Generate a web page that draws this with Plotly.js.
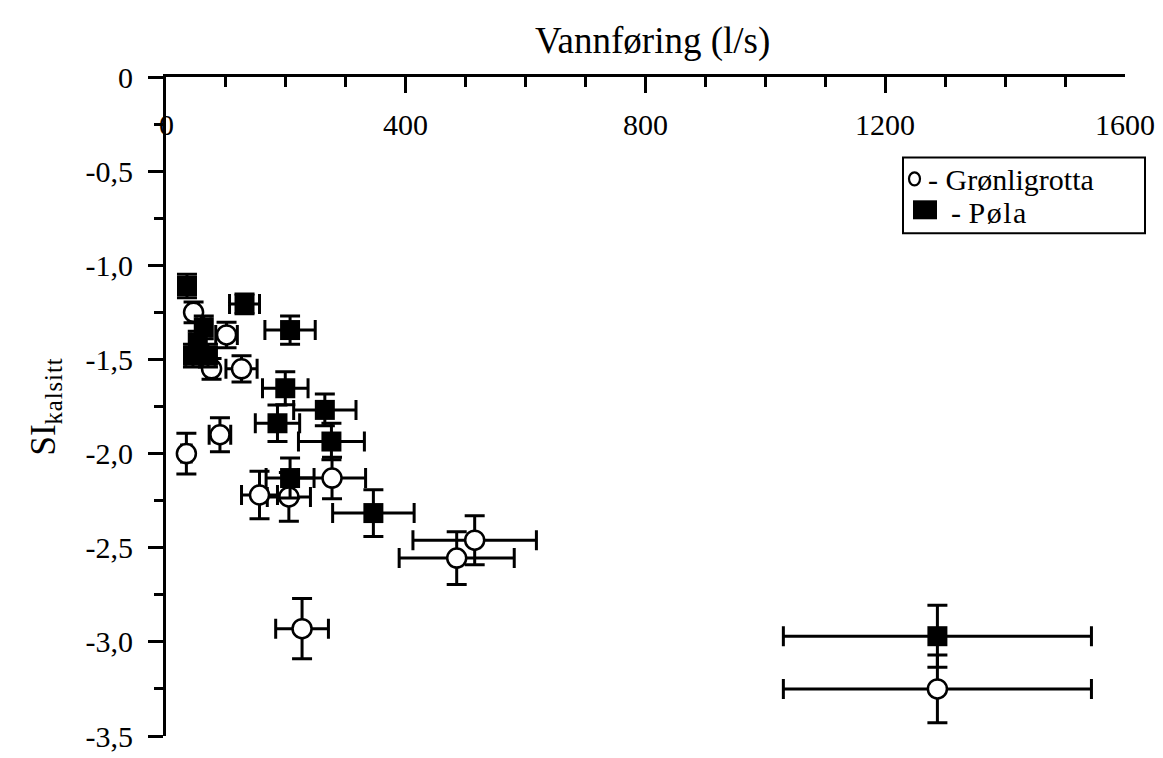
<!DOCTYPE html>
<html>
<head>
<meta charset="utf-8">
<script src="https://cdn.plot.ly/plotly-3.0.1.min.js"></script>
<style>html,body{margin:0;padding:0;background:#fff;}#chart{width:1163px;height:758px;}</style>
</head>
<body>
<div id="chart"></div>
<script>
// Grønligrotta (open circles)
const gronX    = [46, 101, 76, 126, 90, 34, 156, 205, 277, 515, 485, 227, 1287];
const gronY    = [-1.25, -1.37, -1.55, -1.55, -1.90, -2.00, -2.22, -2.23, -2.13, -2.46, -2.555, -2.93, -3.25];
const gronXerr = [8, 18, 8, 26, 18, 8, 30, 36, 56, 103, 96, 44, 257];
const gronYerr = [0.055, 0.068, 0.055, 0.07, 0.09, 0.108, 0.126, 0.13, 0.11, 0.13, 0.14, 0.16, 0.18];

// Pøla (filled squares)
const polaX    = [35, 131, 207, 63, 53, 45, 70, 199, 265, 186, 276, 207, 346, 1287];
const polaY    = [-1.11, -1.205, -1.344, -1.33, -1.41, -1.48, -1.48, -1.653, -1.768, -1.839, -1.936, -2.13, -2.316, -2.97];
const polaXerr = [10, 25, 42, 12, 12, 12, 12, 38, 52, 37, 55, 40, 68, 257];
const polaYerr = [0.062, 0.053, 0.075, 0.06, 0.06, 0.06, 0.06, 0.088, 0.084, 0.097, 0.097, 0.106, 0.124, 0.165];

const xTickVals = [0, 400, 800, 1200, 1600];
const xTickText = ['0', '400', '800', '1200', '1600'];
const yTickVals = [0, -0.5, -1.0, -1.5, -2.0, -2.5, -3.0, -3.5];
const yTickText = ['0', '-0,5', '-1,0', '-1,5', '-2,0', '-2,5', '-3,0', '-3,5'];

const seriesNames = ['Grønligrotta', 'Pøla'];

const FONT = 'Liberation Serif, Times New Roman, serif';
const errStyle = {type: 'data', color: '#000', thickness: 3, width: 10, visible: true};

const traces = [
  {
    x: gronX, y: gronY, mode: 'markers', type: 'scatter', name: seriesNames[0],
    marker: {symbol: 'circle', size: 19, color: '#fff', line: {color: '#000', width: 2.5}},
    error_x: Object.assign({array: gronXerr}, errStyle),
    error_y: Object.assign({array: gronYerr}, errStyle)
  },
  {
    x: polaX, y: polaY, mode: 'markers', type: 'scatter', name: seriesNames[1],
    marker: {symbol: 'square', size: 20, color: '#000', line: {color: '#000', width: 0}},
    error_x: Object.assign({array: polaXerr}, errStyle),
    error_y: Object.assign({array: polaYerr}, errStyle)
  }
];

// pixel helpers for the legend box (plot area: x 166..1125, y 76.5..736.5)
const PL = 166, PR = 1125, PT = 76.5, PB = 736.5;
const px = v => (v - PL) / (PR - PL);
const py = v => (PB - v) / (PB - PT);

const annotations = [
  {text: 'Vannføring (l/s)', xref: 'paper', yref: 'paper', x: px(652), y: py(40),
   xanchor: 'center', yanchor: 'middle', showarrow: false,
   font: {family: FONT, size: 37, color: '#000'}}
];
// x tick labels, drawn below the top axis line
xTickVals.forEach((v, i) => {
  annotations.push({text: xTickText[i], xref: 'x', yref: 'paper', x: v, y: 1, yshift: -47,
    xanchor: 'center', yanchor: 'middle', showarrow: false,
    font: {family: FONT, size: 30, color: '#000'}});
});
// legend texts
annotations.push({text: '-\u00A0' + seriesNames[0], xref: 'paper', yref: 'paper', x: px(926), y: py(179),
  xanchor: 'left', yanchor: 'middle', showarrow: false, font: {family: FONT, size: 30, color: '#000'}});
annotations.push({text: '-\u00A0<span style="letter-spacing:1.5px">' + seriesNames[1] + '</span>', xref: 'paper', yref: 'paper', x: px(949), y: py(212),
  xanchor: 'left', yanchor: 'middle', showarrow: false, font: {family: FONT, size: 30, color: '#000'}});

const shapes = [
  {type: 'rect', xref: 'paper', yref: 'paper', x0: px(903), x1: px(1145), y0: py(233), y1: py(157),
   line: {color: '#000', width: 2}, fillcolor: '#fff', layer: 'above'},
  {type: 'circle', xref: 'paper', yref: 'paper', x0: px(909), x1: px(920), y0: py(185), y1: py(172),
   line: {color: '#000', width: 2.2}, fillcolor: '#fff', layer: 'above'},
  {type: 'rect', xref: 'paper', yref: 'paper', x0: px(913), x1: px(937), y0: py(219), y1: py(200),
   line: {color: '#000', width: 0}, fillcolor: '#000', layer: 'above'}
];

const layout = {
  width: 1163, height: 758,
  margin: {l: PL, r: 1163 - PR, t: PT, b: 758 - PB, pad: 0},
  paper_bgcolor: '#fff', plot_bgcolor: '#fff',
  font: {family: FONT, color: '#000', size: 24},
  showlegend: false,
  xaxis: {
    side: 'top', range: [0, 1600], anchor: 'y',
    showgrid: false, zeroline: false,
    showline: true, linecolor: '#000', linewidth: 3,
    ticks: 'inside', ticklen: 16, tickwidth: 3, tickcolor: '#000',
    tickvals: xTickVals, ticktext: xTickText,
    showticklabels: false,
    minor: {dtick: 100, tick0: 0, ticks: 'inside', ticklen: 10, tickwidth: 3, tickcolor: '#000', showgrid: false}
  },
  yaxis: {
    range: [-3.5, 0],
    showgrid: false, zeroline: false,
    showline: true, linecolor: '#000', linewidth: 3,
    ticks: 'outside', ticklen: 15, tickwidth: 3, tickcolor: '#000',
    tickvals: yTickVals, ticktext: yTickText,
    ticklabelstandoff: 9,
    tickfont: {family: FONT, size: 30, color: '#000'},
    minor: {dtick: 0.25, tick0: 0, ticks: 'outside', ticklen: 9, tickwidth: 3, tickcolor: '#000', showgrid: false},
    title: {text: 'SI<sub><span style="letter-spacing:1px">kalsitt</span></sub>', font: {family: FONT, size: 35, color: '#000'}, standoff: 20},
    automargin: false
  },
  annotations: annotations,
  shapes: shapes
};

Plotly.newPlot('chart', traces, layout, {displayModeBar: false, staticPlot: true});
</script>
</body>
</html>
